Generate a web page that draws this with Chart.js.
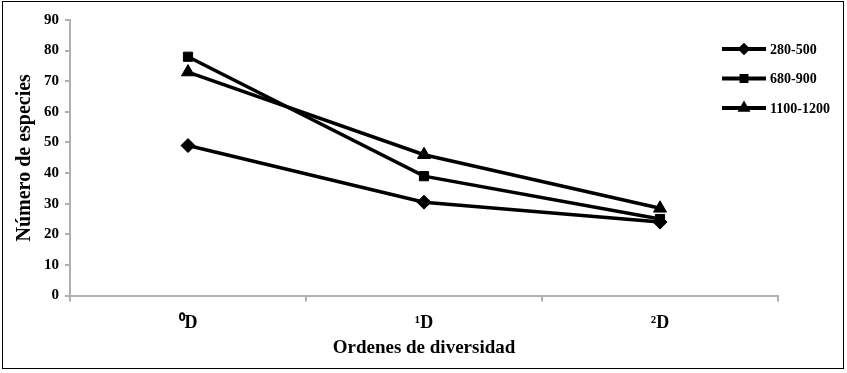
<!DOCTYPE html>
<html>
<head>
<meta charset="utf-8">
<script src="https://cdn.jsdelivr.net/npm/chart.js@4/dist/chart.umd.min.js"></script>
<style>
    html, body { margin: 0; padding: 0; background: #fff; }
    #frame { position: absolute; left: 2px; top: 1px; width: 840px; height: 366px; border: 1px solid #000; box-sizing: content-box; }
    #wrap { position: absolute; left: 0; top: 0; width: 847px; height: 373px; }
</style>
</head>
<body>
<div id="wrap"><canvas id="chart" width="847" height="373"></canvas></div>
<div id="frame"></div>
<script>
const categories = ["\u2070D", "\u00B9D", "\u00B2D"];
const seriesNames = ["280-500", "680-900", "1100-1200"];
const seriesValues = [
    [49, 30.5, 24],
    [78, 39, 25],
    [73, 46, 28.5]
];
const markerStyles = ["rectRot", "rect", "triangle"];
const markerSizes = [7, 6.5, 7.5];
const yTicks = [0, 10, 20, 30, 40, 50, 60, 70, 80, 90];

const serif = "'Liberation Serif', 'Times New Roman', serif";

// draws the line-with-marker legend at the right side
const sideLegend = {
    id: "sideLegend",
    afterDraw(chart) {
        const ctx = chart.ctx;
        ctx.save();
        chart.data.datasets.forEach((ds, i) => {
            const y = 49 + i * 29.5;
            ctx.strokeStyle = "#000";
            ctx.lineWidth = 4;
            ctx.beginPath();
            ctx.moveTo(722, y);
            ctx.lineTo(766, y);
            ctx.stroke();
            Chart.helpers.drawPoint(ctx, { pointStyle: ds.pointStyle, radius: 3.5, rotation: 0, borderWidth: 1 }, 744, y);
            ctx.fillStyle = "#000";
            ctx.font = "bold 14px " + serif;
            ctx.textBaseline = "middle";
            ctx.textAlign = "left";
            ctx.fillText(ds.label, 770, y + 1);
        });
        ctx.restore();
    }
};

new Chart(document.getElementById("chart"), {
    type: "line",
    data: {
        labels: categories,
        datasets: seriesNames.map((name, i) => ({
            label: name,
            data: seriesValues[i],
            borderColor: "#000",
            backgroundColor: "#000",
            borderWidth: 3.5,
            pointStyle: markerStyles[i],
            pointRadius: markerSizes[i],
            pointBorderWidth: 1,
            tension: 0
        }))
    },
    options: {
        responsive: false,
        animation: false,
        layout: { padding: { left: 9, right: 69, top: 20, bottom: 10 } },
        plugins: { legend: { display: false }, tooltip: { enabled: false } },
        scales: {
            x: {
                offset: true,
                grid: { display: true, offset: true, drawOnChartArea: false, drawTicks: true, tickLength: 6, color: "#b0b0b0", lineWidth: 2 },
                border: { display: true, color: "#b0b0b0", width: 2 },
                ticks: { color: "#000", font: { family: serif, size: 18, weight: "bold" }, padding: 11 },
                title: { display: true, text: "Ordenes de diversidad", color: "#000", font: { family: serif, size: 19, weight: "bold" }, padding: { top: -9 } }
            },
            y: {
                min: 0,
                max: 90,
                afterBuildTicks: axis => { axis.ticks = yTicks.map(v => ({ value: v })); },
                grid: { display: true, drawOnChartArea: false, drawTicks: true, tickLength: 5, color: "#b0b0b0", lineWidth: 2 },
                border: { display: true, color: "#b0b0b0", width: 2 },
                ticks: { color: "#000", font: { family: serif, size: 15, weight: "bold" }, padding: 6 },
                title: { display: true, text: "Número de especies", color: "#000", font: { family: serif, size: 20, weight: "bold" }, padding: { bottom: 1 } }
            }
        }
    },
    plugins: [sideLegend]
});
</script>
</body>
</html>
